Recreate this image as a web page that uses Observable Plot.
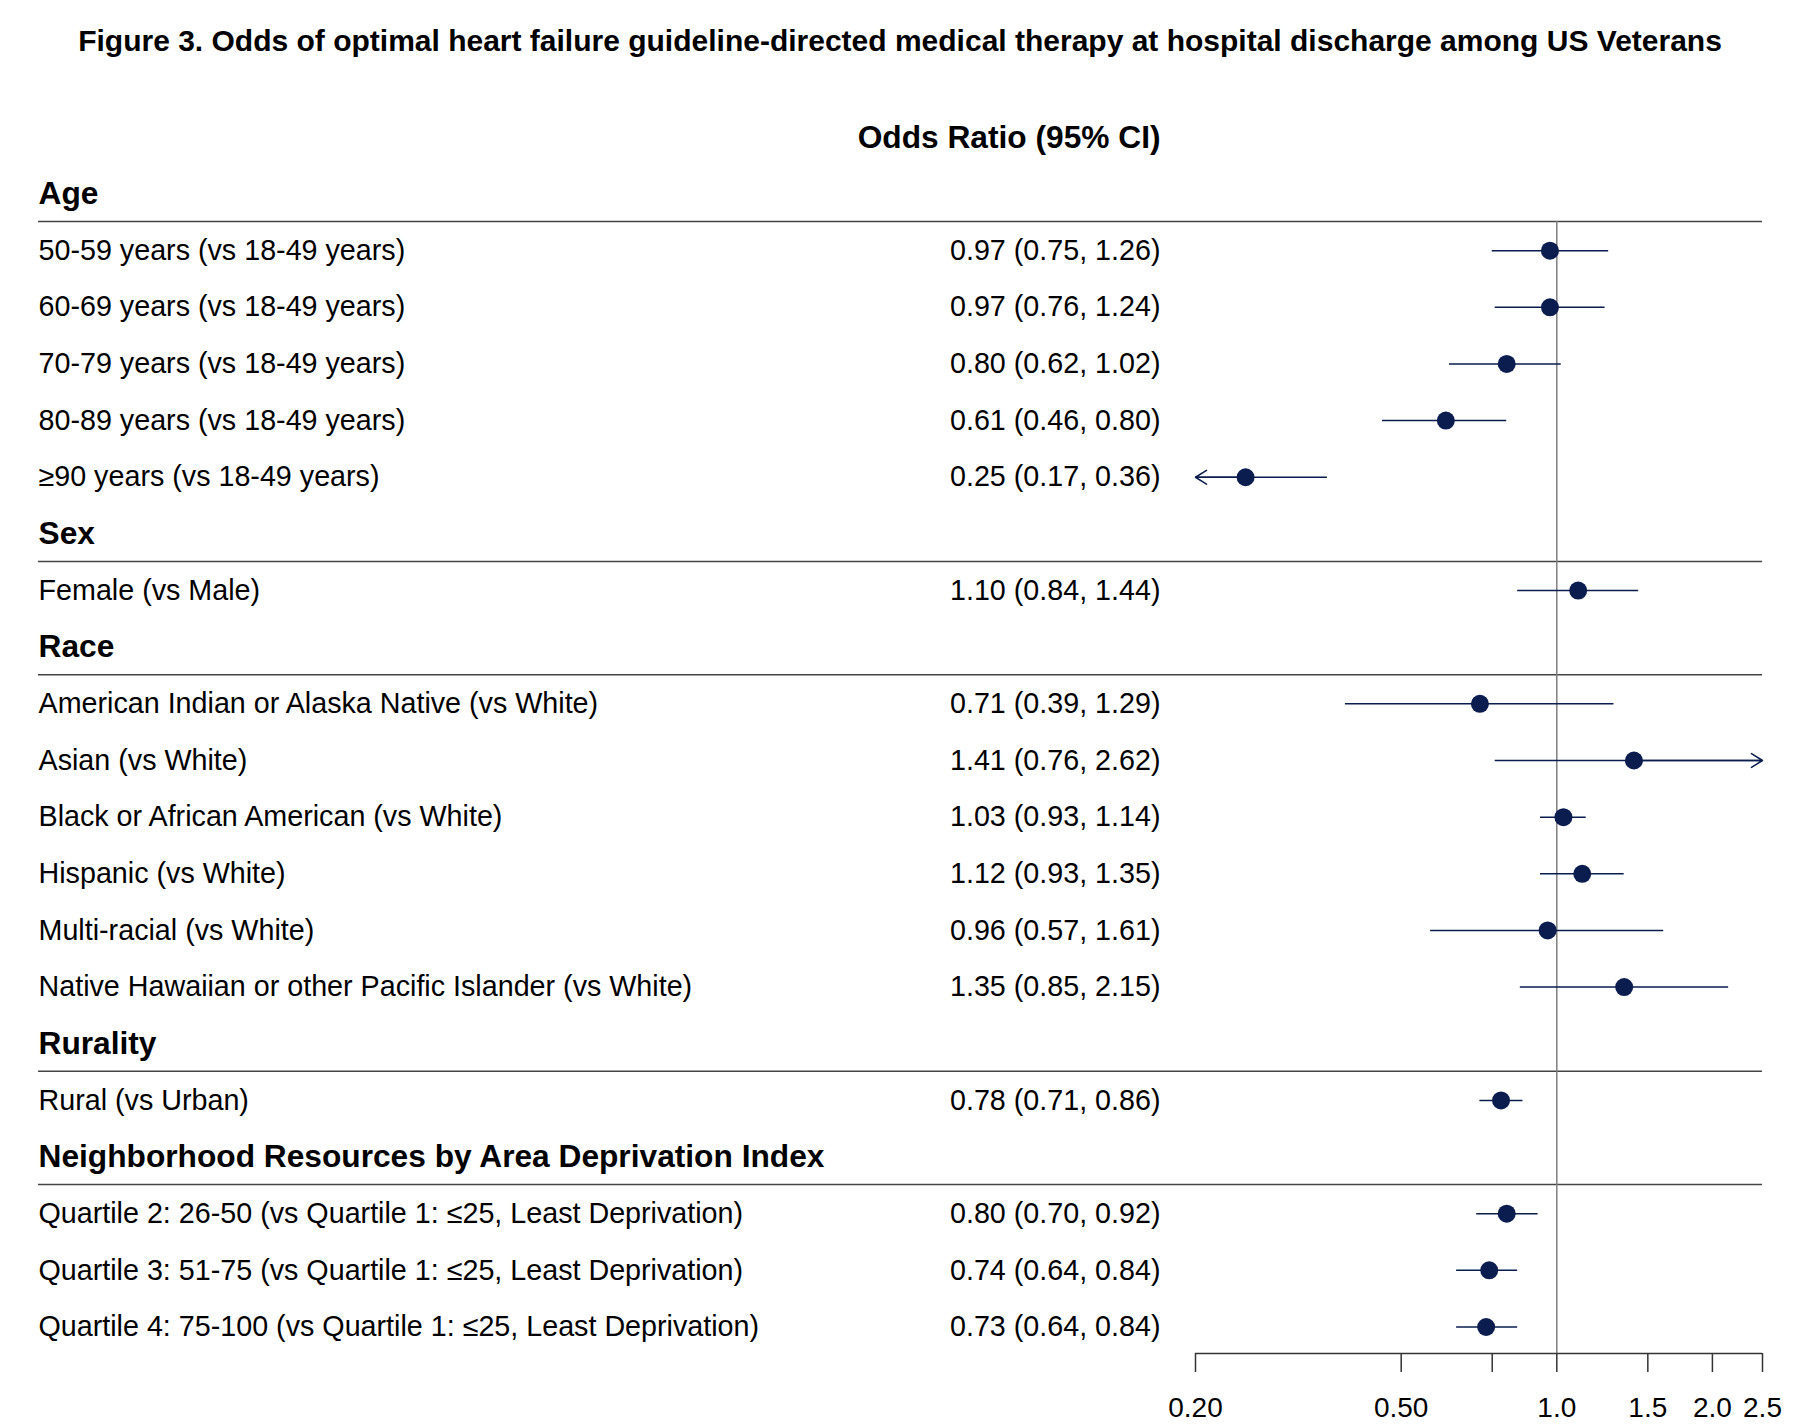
<!DOCTYPE html>
<html><head><meta charset="utf-8">
<script src="https://cdn.jsdelivr.net/npm/d3@7"></script>
<script src="https://cdn.jsdelivr.net/npm/@observablehq/plot@0.6"></script>
<style>
html,body{margin:0;background:#fff;font-family:"Liberation Sans",Arial,sans-serif;overflow:hidden;}
#title{width:1800px;height:70px;box-sizing:border-box;padding-top:26px;line-height:1;font-size:30px;font-weight:bold;text-align:center;color:#000;white-space:nowrap;}
#chart svg{display:block;}
</style></head><body>
<div id="title">Figure 3. Odds of optimal heart failure guideline-directed medical therapy at hospital discharge among US Veterans</div>
<div id="chart"></div>
<script>
const columnHeader = "Odds Ratio (95% CI)";
const rowGroups = ["Age","Age","Age","Age","Age","Sex","Race","Race","Race","Race","Race","Race","Rurality",
  "Neighborhood Resources by Area Deprivation Index","Neighborhood Resources by Area Deprivation Index","Neighborhood Resources by Area Deprivation Index"];
const rowLabels = [
  "50-59 years (vs 18-49 years)",
  "60-69 years (vs 18-49 years)",
  "70-79 years (vs 18-49 years)",
  "80-89 years (vs 18-49 years)",
  "≥90 years (vs 18-49 years)",
  "Female (vs Male)",
  "American Indian or Alaska Native (vs White)",
  "Asian (vs White)",
  "Black or African American (vs White)",
  "Hispanic (vs White)",
  "Multi-racial (vs White)",
  "Native Hawaiian or other Pacific Islander (vs White)",
  "Rural (vs Urban)",
  "Quartile 2: 26-50 (vs Quartile 1: ≤25, Least Deprivation)",
  "Quartile 3: 51-75 (vs Quartile 1: ≤25, Least Deprivation)",
  "Quartile 4: 75-100 (vs Quartile 1: ≤25, Least Deprivation)"
];
const oddsRatio = [0.97,0.97,0.80,0.61,0.25,1.10,0.71,1.41,1.03,1.12,0.96,1.35,0.78,0.80,0.74,0.73];
const ciLower   = [0.75,0.76,0.62,0.46,0.17,0.84,0.39,0.76,0.93,0.93,0.57,0.85,0.71,0.70,0.64,0.64];
const ciUpper   = [1.26,1.24,1.02,0.80,0.36,1.44,1.29,2.62,1.14,1.35,1.61,2.15,0.86,0.92,0.84,0.84];
const tickValues = [0.2,0.5,0.75,1.0,1.5,2.0,2.5];
const tickLabels = ["0.20","0.50","0.75","1.0","1.5","2.0","2.5"];
const xMin = 0.2, xMax = 2.5;

const rows = [{key:"col", type:"col", label:columnHeader}];
let prev = null;
rowLabels.forEach((lab,i)=>{
  if (rowGroups[i] !== prev) { rows.push({key:"h:"+rowGroups[i], type:"head", label:rowGroups[i]}); prev = rowGroups[i]; }
  rows.push({key:"r:"+i, type:"row", label:lab, or:oddsRatio[i], lo:ciLower[i], hi:ciUpper[i]});
});
const keys = rows.map(r=>r.key);
const data = rows.filter(r=>r.type==="row");
const heads = rows.filter(r=>r.type==="head");
const firstHead = heads[0].key, lastKey = keys[keys.length-1];
const f = v => v.toFixed(2);
const tickLabelOf = new Map(tickValues.map((v,i)=>[v,tickLabels[i]]));
const navy = "#0b1c4e";
const font = '"Liberation Sans", Arial, sans-serif';

const chart = Plot.plot({
  width:1800, height:1355,
  marginLeft:38, marginRight:38, marginTop:0, marginBottom:72,
  style:{fontFamily:font, background:"white", color:"black"},
  x:{type:"log", domain:[xMin,xMax], range:[1195,1762], label:null},
  y:{type:"point", domain:keys, range:[66.85,1256.5], padding:0, round:false, axis:null},
  marks:[
    Plot.text(rows.filter(r=>r.type==="col"), {text:"label", y:"key", frameAnchor:"left", dx:1122, textAnchor:"end", fontSize:31.7, fontWeight:"bold", fill:"black"}),
    Plot.text(heads, {text:"label", y:"key", frameAnchor:"left", textAnchor:"start", fontSize:31.7, fontWeight:"bold", fill:"black"}),
    Plot.ruleY(heads, {y:"key", dy:27.5, stroke:"#444", strokeWidth:1.5}),
    Plot.text(data, {text:"label", y:"key", frameAnchor:"left", textAnchor:"start", fontSize:28.7, fill:"black"}),
    Plot.text(data, {text:d=>`${f(d.or)} (${f(d.lo)}, ${f(d.hi)})`, y:"key", frameAnchor:"left", dx:1122, textAnchor:"end", fontSize:28.7, fill:"black"}),
    Plot.ruleX([1], {y1:()=>firstHead, y2:()=>lastKey, insetTop:27.5, insetBottom:-26.5, stroke:"#7f7f7f", strokeWidth:1.5}),
    Plot.ruleY([lastKey], {y:d=>d, dy:26.5, x1:()=>xMin, x2:()=>xMax, stroke:"#333", strokeWidth:1.5}),
    Plot.axisX(tickValues, {anchor:"bottom", label:null, tickSize:19, tickPadding:25, tickFormat:d=>tickLabelOf.get(d), fontSize:28, stroke:"#333", strokeWidth:1.5, fill:"black"}),
    Plot.ruleY(data, {y:"key", x1:d=>Math.max(d.lo,xMin), x2:d=>Math.min(d.hi,xMax), stroke:navy, strokeWidth:1.5}),
    Plot.arrow(data.filter(d=>d.lo<xMin), {x1:"or", x2:()=>xMin, y1:"key", y2:"key", stroke:navy, strokeWidth:1.5, headLength:13, headAngle:64}),
    Plot.arrow(data.filter(d=>d.hi>xMax), {x1:"or", x2:()=>xMax, y1:"key", y2:"key", stroke:navy, strokeWidth:1.5, headLength:13, headAngle:64}),
    Plot.dot(data, {x:"or", y:"key", r:9, fill:navy, stroke:"none"})
  ]
});
document.getElementById("chart").appendChild(chart);
</script>
</body></html>
